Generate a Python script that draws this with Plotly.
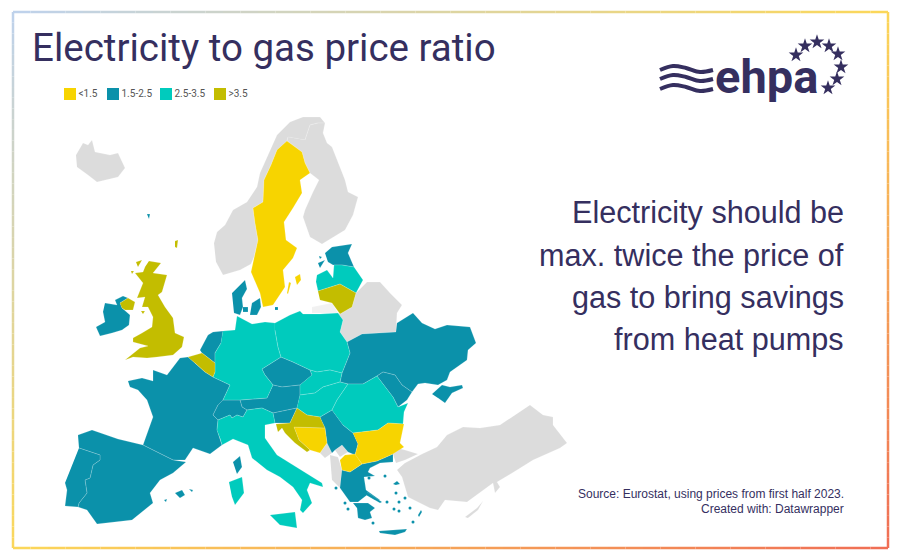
import plotly.graph_objects as go
from plotly.colors import sample_colorscale

# outlines, in picture units
iceland = [(76,155),(83,143),(88,145),(92,140),(95,152),(110,155),(118,153),(125,168),(118,177),(97,182),(88,175),(77,167)]
norway = [(214,243),(217,232),(225,225),(233,210),(247,202),(257,187),(260,173),(270,150),(277,135),(290,122),(303,117),(320,117),(325,123),(318,123),(310,125),(305,140),(288,137),(287,141),(277,150),(271,165),(264,180),(263,202),(253,208),(255,223),(258,240),(254,257),(251,264),(240,270),(223,275),(216,262)]
sweden = [(287,141),(302,152),(305,163),(310,173),(300,180),(302,193),(293,208),(284,222),(286,240),(297,248),(293,258),(283,270),(285,287),(273,305),(263,307),(260,293),(251,272),(254,257),(258,240),(255,223),(253,208),(263,202),(264,180),(271,165),(277,150)]
gotland = [(295,277),(300,274),(301,280),(297,285)]
oland = [(287,293),(289,282),(291,283),(288,294)]
finland = [(305,140),(310,125),(318,123),(325,123),(323,133),(327,143),(332,147),(340,168),(345,180),(348,192),(358,197),(353,215),(345,230),(322,244),(310,237),(303,217),(305,210),(313,192),(319,180),(310,173),(305,163),(302,152),(287,141),(288,137)]
denmark = [(232,293),(245,280),(247,289),(242,298),(243,307),(240,315),(234,313)]
zealand = [(252,303),(260,298),(261,307),(257,315),(250,315)]
funen = [(243,307),(248,307),(248,312),(243,312)]
bornholm = [(275,307),(278,307),(278,310),(275,310)]
faroe = [(147,214),(150,214),(149,219)]
shetland = [(175,241),(178,240),(177,248),(175,247)]
britain = [(149,261),(161,263),(153,273),(167,275),(162,292),(158,295),(165,307),(173,318),(175,333),(184,337),(182,347),(173,355),(157,357),(147,358),(133,357),(125,360),(140,348),(148,346),(133,342),(133,338),(142,333),(152,327),(153,317),(148,307),(142,307),(145,297),(137,298),(143,283),(135,273),(143,272),(145,267)]
hebrides = [(136,262),(142,260),(138,267)]
skye = [(131,271),(134,271),(132,274)]
man = [(141,311),(145,311),(143,314)]
n_ireland = [(120,303),(128,298),(135,302),(133,310),(125,310),(122,308)]
ireland = [(105,303),(117,305),(115,300),(123,296),(128,298),(120,303),(122,308),(130,315),(129,325),(122,330),(112,333),(100,336),(96,327),(105,322),(103,312)]
france = [(128,381),(142,378),(153,381),(153,370),(167,375),(180,358),(188,357),(195,363),(205,372),(213,377),(230,385),(223,400),(218,405),(213,415),(218,420),(217,430),(220,438),(222,445),(210,454),(193,448),(185,460),(173,460),(143,445),(153,417),(147,400),(138,390),(130,387)]
spain = [(78,435),(92,430),(118,439),(143,445),(173,460),(186,462),(173,473),(160,480),(150,493),(153,503),(132,520),(97,524),(87,510),(78,507),(79,503),(87,493),(85,480),(90,478),(93,465),(100,460),(100,455),(79,448)]
portugal = [(79,448),(100,455),(100,460),(93,465),(90,478),(85,480),(87,493),(79,503),(78,507),(65,506),(67,490),(65,483)]
mallorca = [(175,493),(182,490),(185,495),(180,498)]
menorca = [(189,489),(193,490),(192,492)]
ibiza = [(164,500),(167,499),(166,502)]
corsica = [(233,462),(240,456),(242,467),(237,474)]
sardinia = [(229,482),(242,477),(244,493),(235,505),(232,497)]
belgium = [(188,357),(202,353),(215,363),(215,372),(213,377),(205,372),(195,363)]
netherlands = [(200,350),(208,335),(213,332),(223,331),(221,343),(215,353),(215,363),(202,353)]
germany = [(223,331),(235,330),(237,316),(247,321),(252,324),(265,322),(275,323),(275,330),(278,347),(281,357),(262,369),(265,375),(273,385),(267,398),(240,400),(223,400),(230,385),(213,377),(215,372),(215,353),(221,343)]
poland = [(275,323),(290,315),(300,311),(303,314),(320,314),(338,313),(343,320),(340,332),(347,342),(350,353),(342,373),(330,370),(317,372),(310,370),(293,362),(281,357),(278,347),(275,330)]
czechia = [(262,369),(281,357),(293,362),(310,370),(312,375),(300,385),(282,387),(273,385),(265,375)]
austria = [(273,385),(282,387),(300,385),(300,395),(297,408),(273,413),(262,408),(247,410),(242,407),(240,400),(267,398)]
switzerland = [(223,400),(240,400),(242,407),(247,410),(243,417),(237,415),(232,418),(230,415),(218,420),(213,415),(218,405)]
slovakia = [(312,375),(310,370),(317,372),(330,370),(342,373),(340,382),(323,387),(315,393),(300,395),(300,385)]
hungary = [(300,395),(315,393),(323,387),(340,382),(348,384),(337,400),(332,410),(320,417),(307,415),(297,408)]
romania = [(332,410),(337,400),(348,384),(363,384),(377,376),(393,397),(398,407),(408,403),(404,412),(403,424),(388,423),(378,430),(353,433),(343,425)]
ukraine = [(397,323),(413,313),(422,323),(435,329),(447,325),(470,327),(476,343),(468,350),(467,360),(450,372),(447,380),(438,385),(425,383),(418,384),(412,392),(402,385),(395,375),(383,372),(377,376),(363,384),(348,384),(340,382),(342,373),(350,353),(347,342),(362,334),(396,332)]
moldova = [(377,376),(383,372),(395,375),(402,385),(412,392),(407,400),(398,407),(393,397)]
crimea = [(432,394),(442,385),(450,387),(462,385),(463,388),(452,393),(445,403),(438,398)]
belarus = [(338,313),(340,314),(352,307),(356,293),(367,282),(380,282),(390,293),(402,305),(397,313),(396,332),(362,334),(347,342),(340,332),(343,320)]
kaliningrad = [(312,307),(332,303),(338,313),(312,313)]
estonia = [(325,253),(332,247),(352,244),(348,253),(354,267),(342,265),(333,265),(328,262)]
saaremaa = [(318,263),(325,260),(320,268)]
hiiumaa = [(319,256),(322,257),(320,259)]
latvia = [(317,275),(327,270),(333,278),(334,265),(342,265),(354,267),(363,280),(356,293),(340,284),(318,291),(316,282)]
lithuania = [(318,291),(340,284),(356,293),(352,307),(340,314),(332,303),(320,300)]
italy = [(217,430),(218,420),(230,415),(232,418),(237,415),(243,417),(247,410),(262,408),(273,413),(275,423),(265,425),(265,438),(277,455),(298,468),(322,483),(323,487),(310,483),(307,490),(312,503),(303,513),(300,510),(302,500),(293,487),(280,477),(267,470),(252,458),(248,445),(233,439),(222,445),(220,438)]
sicily = [(270,515),(295,512),(297,528),(280,525)]
slovenia = [(273,413),(297,408),(290,423),(275,423)]
croatia = [(276,424),(290,423),(297,408),(307,415),(320,417),(322,422),(325,428),(294,427),(299,440),(310,450),(307,452),(295,443),(285,433),(282,428),(278,432)]
bosnia = [(294,427),(325,428),(327,443),(320,453),(310,450),(299,440)]
serbia = [(320,417),(332,410),(343,425),(353,433),(358,444),(355,455),(348,452),(342,445),(335,450),(332,453),(327,443),(325,428),(322,422)]
montenegro = [(320,453),(327,443),(332,453),(325,458)]
kosovo = [(335,450),(342,445),(348,452),(340,457)]
albania = [(330,455),(338,457),(342,470),(340,488),(332,480)]
bulgaria = [(353,433),(378,430),(388,423),(404,424),(400,443),(404,447),(393,454),(377,461),(362,464),(355,455),(358,444)]
macedonia = [(340,460),(345,455),(355,454),(362,464),(350,472),(342,470)]
greece = [(342,470),(350,472),(362,464),(377,461),(393,454),(393,462),(380,463),(370,468),(368,472),(375,476),(364,477),(366,490),(380,500),(375,500),(367,495),(358,502),(350,502),(340,488)]
peloponnese = [(353,503),(368,503),(375,508),(370,512),(372,518),(365,520),(358,518),(357,508)]
euboea = [(367,492),(382,502),(380,503),(366,495)]
crete = [(379,531),(392,530),(407,529),(405,532),(395,535),(380,533)]
rhodes = [(418,515),(421,510),(422,512),(419,517)]
lesbos = [(393,484),(397,481),(400,484),(396,485)]
turkey = [(405,463),(422,454),(437,447),(447,435),(463,427),(480,428),(500,425),(520,412),(530,405),(543,415),(553,417),(553,425),(567,443),(560,448),(533,460),(517,470),(497,482),(500,487),(495,493),(493,483),(483,490),(467,502),(445,500),(438,510),(430,508),(408,497),(402,477),(397,470)]
thrace = [(393,454),(397,448),(405,450),(418,454),(405,460),(396,463)]
cyprus = [(465,517),(477,508),(483,501),(478,510),(468,518)]
aegean_x = [396,336,345,348,385,369,387,394,399,399,405,410,413,373]
aegean_y = [493,488,503,509,476,478,502,509,511,502,498,508,522,523]

# ratio classes
no_data = [iceland, norway, finland, belarus, turkey, thrace, cyprus, montenegro, kosovo, albania]
under_1_5 = [sweden, gotland, oland, bosnia, bulgaria, macedonia]
from_1_5 = [denmark, zealand, funen, bornholm, faroe, ireland, france, spain, portugal, mallorca, menorca, ibiza,
            corsica, netherlands, czechia, austria, switzerland, slovenia, serbia, ukraine, moldova, crimea,
            estonia, saaremaa, hiiumaa, greece, peloponnese, euboea, crete, rhodes, lesbos]
from_2_5 = [sardinia, germany, poland, slovakia, hungary, romania, latvia, italy, sicily]
over_3_5 = [shetland, britain, hebrides, skye, man, n_ireland, belgium, croatia, lithuania]

legend_labels = ['<1.5', '1.5-2.5', '2.5-3.5', '>3.5']
legend_x = [70, 113, 166, 220]

wave_x = [660, 673, 686, 700, 713]
wave_1 = [70, 66, 68, 72, 70]
wave_2 = [79, 75, 77, 81, 79]
wave_3 = [89, 85, 87, 91, 89]
star_x = [796, 805, 817, 829, 838, 841, 837, 828]
star_y = [55, 46, 42, 46, 54, 67, 79, 88]

note_lines = ['Electricity should be', 'max. twice the price of', 'gas to bring savings', 'from heat pumps']
note_y = [212, 255, 297, 339]

YELLOW = '#f7d400'
BLUE = '#0b91aa'
TEAL = '#00cbbd'
OLIVE = '#c3bd00'
GREY = '#dcdcdc'
INK = '#352f5f'
COLORS = [YELLOW, BLUE, TEAL, OLIVE]

fig = go.Figure()


def add_shapes(shapes, color):
    for pts in shapes:
        fig.add_trace(go.Scatter(x=[p[0] for p in pts], y=[p[1] for p in pts], mode='lines', fill='toself',
                                 fillcolor=color, line=dict(color='rgba(255,255,255,0.35)', width=0.5),
                                 hoverinfo='skip', showlegend=False))


add_shapes(no_data, GREY)
add_shapes([kaliningrad], '#f1f1f1')
add_shapes(from_1_5, BLUE)
add_shapes(from_2_5, TEAL)
add_shapes(under_1_5, YELLOW)
add_shapes(over_3_5, OLIVE)

fig.add_trace(go.Scatter(x=aegean_x, y=aegean_y, mode='markers', marker=dict(color=BLUE, size=3),
                         hoverinfo='skip', showlegend=False))

# legend
fig.add_trace(go.Scatter(x=legend_x, y=[94] * 4, mode='markers+text', text=legend_labels,
                         textposition='middle right', textfont=dict(family='Roboto', size=10, color='#555555'),
                         marker=dict(symbol='square', size=12, color=COLORS),
                         hoverinfo='skip', showlegend=False))

# logo
for w in [wave_1, wave_2, wave_3]:
    fig.add_trace(go.Scatter(x=wave_x, y=w, mode='lines', line=dict(color=INK, width=4, shape='spline'),
                             hoverinfo='skip', showlegend=False))
fig.add_trace(go.Scatter(x=star_x, y=star_y, mode='markers', marker=dict(symbol='star', size=11, color=INK),
                         hoverinfo='skip', showlegend=False))

fig.add_annotation(x=30, y=47, text='Electricity to gas price ratio', showarrow=False, xanchor='left', yanchor='middle',
                   font=dict(family='Roboto', size=38.5, color=INK))
fig.add_annotation(x=713, y=76, text='<b>ehpa</b>', showarrow=False, xanchor='left', yanchor='middle',
                   font=dict(family='Roboto', size=47, color=INK))
for line, y in zip(note_lines, note_y):
    fig.add_annotation(x=846, y=y, text=line, showarrow=False, xanchor='right', yanchor='middle',
                       font=dict(family='Liberation Sans', size=30.6, color=INK))
fig.add_annotation(x=846, y=494, text='Source: Eurostat, using prices from first half 2023.', showarrow=False,
                   xanchor='right', yanchor='middle', font=dict(family='Liberation Sans', size=12, color=INK))
fig.add_annotation(x=846, y=509, text='Created with: Datawrapper', showarrow=False,
                   xanchor='right', yanchor='middle', font=dict(family='Liberation Sans', size=12, color=INK))

# gradient frame
scale = [[0, '#bcd2f2'], [0.5, '#fbd75a'], [1, '#ef6a55']]
left, right, top, bottom = 13, 888, 12, 548
steps = 50
frame = []
for i in range(steps):
    a, b = i / steps, (i + 1) / steps
    for x0, y0, x1, y1 in [(left + a * (right - left), top, left + b * (right - left), top),
                           (left + a * (right - left), bottom, left + b * (right - left), bottom),
                           (left, top + a * (bottom - top), left, top + b * (bottom - top)),
                           (right, top + a * (bottom - top), right, top + b * (bottom - top))]:
        t = ((x0 + x1) / 2 / 900 + (y0 + y1) / 2 / 560) / 2
        frame.append(dict(type='line', x0=x0, y0=y0, x1=x1, y1=y1, layer='below',
                          line=dict(color=sample_colorscale(scale, [t])[0], width=2.5)))

fig.update_layout(
    width=900, height=560,
    margin=dict(l=0, r=0, t=0, b=0),
    paper_bgcolor='white', plot_bgcolor='white',
    xaxis=dict(range=[0, 900], visible=False, fixedrange=True),
    yaxis=dict(range=[560, 0], visible=False, fixedrange=True),
    shapes=frame,
    showlegend=False,
)

fig.write_html("out.html", config=dict(displayModeBar=False),
               post_script="document.body.style.margin='0';")
